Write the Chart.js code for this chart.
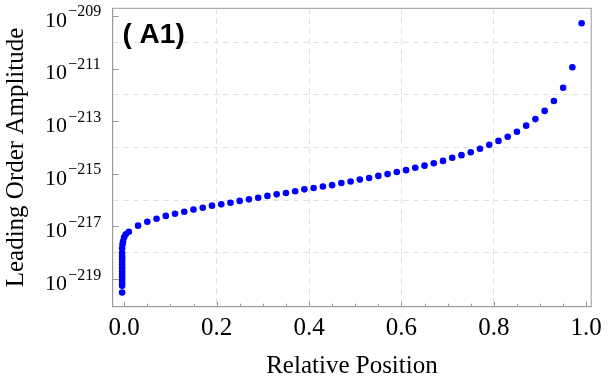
<!DOCTYPE html>
<html>
<head>
<meta charset="utf-8">
<script src="https://cdn.jsdelivr.net/npm/chart.js@4/dist/chart.umd.min.js"></script>
<style>
  html, body { margin: 0; padding: 0; background: #fff; }
  canvas { display: block; }
</style>
</head>
<body>
<canvas id="amp" width="609" height="382"></canvas>
<script>
// relative position of each sample (x)
const relPos = [
    -0.0045, -0.0045, -0.0045, -0.0045, -0.0045, -0.0045, -0.0045,
    -0.0045, -0.0045, -0.0045, -0.0045, -0.0045, -0.0045,
    -0.0045, -0.0036, -0.0024, -0.0002, 0.0034, 0.01,
    0.03, 0.05, 0.07, 0.09, 0.11, 0.13, 0.15, 0.17, 0.19,
    0.21, 0.23, 0.25, 0.27, 0.29, 0.31, 0.33, 0.35, 0.37, 0.39,
    0.41, 0.43, 0.45, 0.47, 0.49, 0.51, 0.53, 0.55, 0.57, 0.59,
    0.61, 0.63, 0.65, 0.67, 0.69, 0.71, 0.73, 0.75, 0.77, 0.79,
    0.81, 0.83, 0.85, 0.87, 0.89, 0.91, 0.93, 0.95, 0.97, 0.99
];
// leading order amplitude, as log10 (value = 10^exp)
const ampExp = [
    -219.51, -219.25, -219.15, -219.04, -218.92, -218.81, -218.70,
    -218.58, -218.47, -218.35, -218.24, -218.13, -218.01,
    -217.83, -217.68, -217.56, -217.41, -217.30, -217.20,
    -216.97, -216.82, -216.71, -216.60, -216.52, -216.44, -216.36, -216.29, -216.21,
    -216.16, -216.10, -216.03, -215.97, -215.91, -215.84, -215.78, -215.73, -215.66, -215.59,
    -215.54, -215.48, -215.43, -215.35, -215.29, -215.22, -215.16, -215.08, -215.01, -214.93,
    -214.86, -214.77, -214.69, -214.60, -214.51, -214.39, -214.29, -214.18, -214.05, -213.90,
    -213.75, -213.59, -213.40, -213.17, -212.92, -212.61, -212.23, -211.73, -210.95, -209.28
];
// axis ticks
const xTickVals = [0, 0.2, 0.4, 0.6, 0.8, 1.0];
const yTickExps = [-219, -217, -215, -213, -211, -209];
const yGridExps = [-218, -216, -214, -212, -210];

const SERIF = "'Liberation Serif', 'Times New Roman', serif";
const FRAME = '#9a9a9a';
const GRID = '#e2e2e2';

// frame, inward ticks, y labels with exponents, panel tag
const decorPlugin = {
    id: 'decor',
    afterDraw(chart) {
        const ctx = chart.ctx;
        const a = chart.chartArea;
        const xs = chart.scales.x;
        const ys = chart.scales.y;
        ctx.save();
        ctx.strokeStyle = FRAME;
        ctx.lineWidth = 1;
        ctx.strokeRect(a.left, a.top, a.right - a.left, a.bottom - a.top);

        // inward ticks
        ctx.beginPath();
        for (let e of yTickExps) {
            const y = Math.round(ys.getPixelForValue(e)) + 0.5;
            ctx.moveTo(a.left, y);
            ctx.lineTo(a.left + 6, y);
        }
        for (let i = 0; i <= 20; i++) {
            const v = i * 0.05;
            const x = Math.round(xs.getPixelForValue(v)) + 0.5;
            const len = (i % 4 === 0) ? 5 : 3;
            ctx.moveTo(x, a.bottom);
            ctx.lineTo(x, a.bottom - len);
        }
        ctx.stroke();

        // y labels 10^-n
        ctx.fillStyle = '#000';
        ctx.textBaseline = 'alphabetic';
        for (let e of yTickExps) {
            const y = ys.getPixelForValue(e);
            ctx.font = '16px ' + SERIF;
            ctx.textAlign = 'left';
            ctx.fillText('\u2212' + Math.abs(e), 68.3, y + 0.5);
            ctx.font = '22px ' + SERIF;
            ctx.textAlign = 'right';
            ctx.fillText('10', 67, y + 10.7);
        }

        ctx.font = "bold 28px 'Liberation Sans', Arial, sans-serif";
        ctx.textAlign = 'left';
        ctx.fillText('( A1)', 122.5, 43.3);
        ctx.restore();
    }
};

const ctx = document.getElementById('amp');

const myChart = new Chart(ctx, {
    type: 'scatter',
    data: {
        datasets: [{
            label: 'A1',
            data: relPos.map((x, i) => ({ x: x, y: ampExp[i] })),
            backgroundColor: '#0000ff',
            borderWidth: 0,
            pointRadius: 3.3,
            pointHoverRadius: 3.3
        }]
    },
    options: {
        responsive: false,
        animation: false,
        devicePixelRatio: 1,
        layout: { padding: { left: 0, top: 8.3, right: 13, bottom: 0 } },
        plugins: { legend: { display: false }, tooltip: { enabled: false } },
        scales: {
            x: {
                type: 'linear',
                min: -0.0249,
                max: 1.0107,
                afterBuildTicks: s => { s.ticks = xTickVals.map(v => ({ value: v })); },
                afterFit: s => { s.height = 75.3; },
                ticks: {
                    font: { family: SERIF, size: 25 },
                    color: '#000',
                    padding: 7,
                    maxRotation: 0,
                    callback: v => v.toFixed(1)
                },
                grid: {
                    drawTicks: false,
                    color: c => (c.tick && c.tick.value > 0.01 && c.tick.value < 0.99) ? GRID : 'rgba(0,0,0,0)',
                    lineWidth: 1
                },
                border: { display: true, color: FRAME, width: 1, dash: [6, 4] },
                title: {
                    display: true,
                    text: 'Relative Position',
                    font: { family: SERIF, size: 25 },
                    color: '#000',
                    padding: { top: 0, bottom: 0.5 }
                }
            },
            y: {
                type: 'linear',
                min: -220.05,
                max: -208.71,
                afterBuildTicks: s => { s.ticks = yGridExps.map(v => ({ value: v })); },
                afterFit: s => { s.width = 112.7; },
                ticks: { display: false },
                grid: { drawTicks: false, color: GRID, lineWidth: 1 },
                border: { display: true, color: FRAME, width: 1, dash: [6, 4] },
                title: {
                    display: true,
                    text: 'Leading Order Amplitude',
                    font: { family: SERIF, size: 25 },
                    color: '#000',
                    padding: { top: 1.6, bottom: 0 }
                }
            }
        }
    },
    plugins: [decorPlugin]
});
</script>
</body>
</html>
